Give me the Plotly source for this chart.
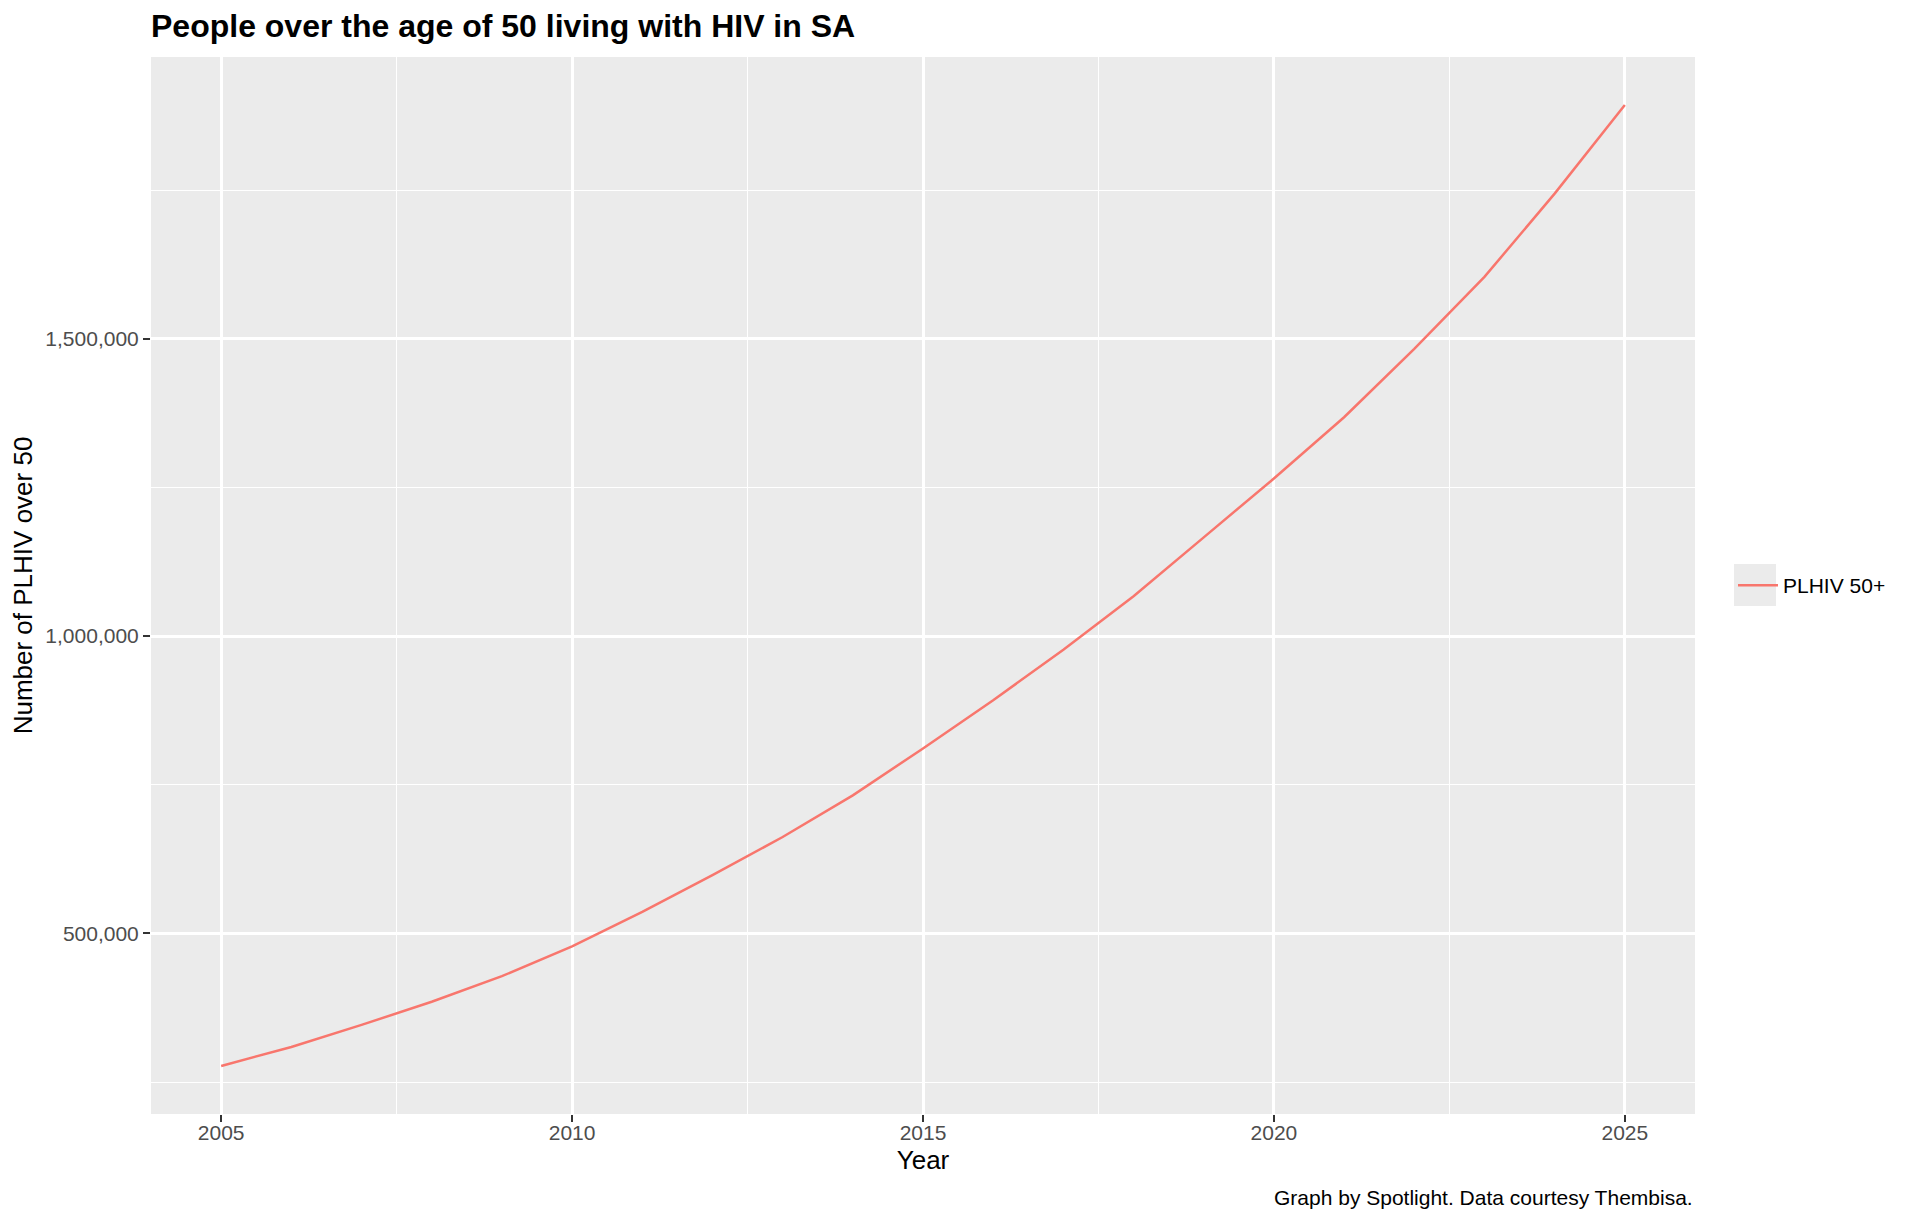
import plotly.graph_objects as go

# PLHIV aged 50+ in South Africa
years = list(range(2005, 2026))
plhiv_50 = [277000, 309000, 346000, 385000, 428000, 478000, 536000, 598000,
            662000, 732000, 811000, 892000, 977000, 1067000, 1166000, 1265000,
            1368000, 1483000, 1604000, 1744000, 1893000]
series_name = "PLHIV 50+"
y_ticks = [500000, 1000000, 1500000]
x_ticks = [2005, 2010, 2015, 2020, 2025]

FONT = "Liberation Sans, Arial, Helvetica, sans-serif"
# page body has an 8px margin, so the figure is 8px smaller than the window
W, H = 1912, 1214
ML, MR, MT, MB = 143, 225, 49, 108

# ggplot-style 5% expansion of the scales
ypad = (max(plhiv_50) - min(plhiv_50)) * 0.05
xpad = (max(years) - min(years)) * 0.05

fig = go.Figure()
fig.add_trace(go.Scatter(x=years, y=plhiv_50, mode="lines", name=series_name,
                         line=dict(color="#F8766D", width=2.5)))

pw = W - ML - MR
ph = H - MT - MB


def px_x(p):
    return (p - ML) / pw


def px_y(p):
    return (H - MB - p) / ph


fig.update_layout(
    width=W, height=H,
    margin=dict(l=ML, r=MR, t=MT, b=MB, autoexpand=False),
    paper_bgcolor="white",
    plot_bgcolor="#EBEBEB",
    font=dict(family=FONT, size=21, color="#000000"),
    title=dict(text="<b>People over the age of 50 living with HIV in SA</b>",
               font=dict(size=32, color="#000000"),
               xref="paper", x=0, xanchor="left",
               yref="container", y=1 - 17.5 / H, yanchor="middle"),
    showlegend=True,
    legend=dict(x=px_x(1725), xanchor="left", y=0.5, yanchor="middle",
                bgcolor="rgba(0,0,0,0)", borderwidth=0, itemwidth=40,
                font=dict(size=21, color="#000000")),
    # grey legend key background, as in ggplot
    shapes=[dict(type="rect", xref="paper", yref="paper",
                 x0=px_x(1726), x1=px_x(1768), y0=px_y(598), y1=px_y(556),
                 fillcolor="#EBEBEB", line=dict(width=0), layer="below")],
    annotations=[dict(text="Graph by Spotlight. Data courtesy Thembisa.",
                      xref="paper", yref="paper", x=1, xanchor="right",
                      y=px_y(1189), yanchor="middle", showarrow=False,
                      font=dict(size=21, color="#000000"))],
)

fig.update_xaxes(
    range=[min(years) - xpad, max(years) + xpad],
    tickvals=x_ticks, ticktext=[str(t) for t in x_ticks],
    showgrid=True, gridcolor="white", gridwidth=2.6,
    minor=dict(dtick=2.5, tick0=2005, showgrid=True, gridcolor="white", gridwidth=1.3),
    zeroline=False, showline=False,
    ticks="outside", ticklen=7, tickwidth=2, tickcolor="#333333",
    tickfont=dict(size=21, color="#4D4D4D"), ticklabelstandoff=-7,
    title=dict(text="Year", font=dict(size=26, color="#000000"), standoff=7),
)
fig.update_yaxes(
    range=[min(plhiv_50) - ypad, max(plhiv_50) + ypad],
    tickvals=y_ticks, tickformat=",d",
    showgrid=True, gridcolor="white", gridwidth=2.6,
    minor=dict(tick0=250000, dtick=500000, showgrid=True, gridcolor="white", gridwidth=1.3),
    zeroline=False, showline=False,
    ticks="outside", ticklen=7, tickwidth=2, tickcolor="#333333",
    tickfont=dict(size=21, color="#4D4D4D"),
    title=dict(text="Number of PLHIV over 50", font=dict(size=26, color="#000000"), standoff=5),
)

fig.write_html("out.html")
